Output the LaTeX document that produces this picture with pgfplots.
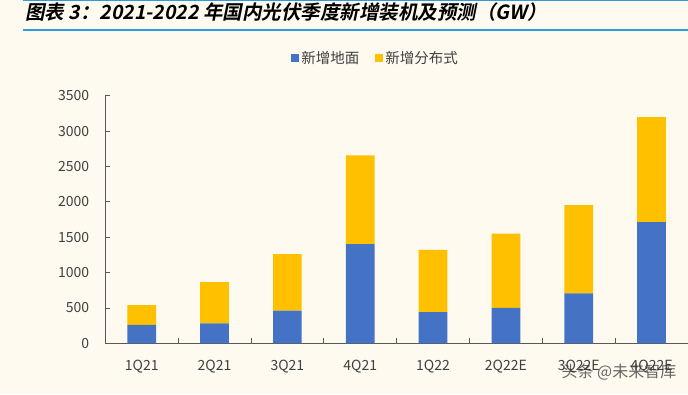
\documentclass[border=0pt]{standalone}
\usepackage{pgfplots}
\pgfplotsset{compat=1.18}
\usepackage{fontspec}
\setmainfont{Noto Sans CJK SC}
\newfontfamily\titlefont{Noto Sans CJK SC Bold}[FakeSlant=0.2]
\definecolor{bg}{HTML}{FEFAF0}
\definecolor{cblue}{HTML}{4472C4}
\definecolor{cyellow}{HTML}{FFC000}
\definecolor{tline}{HTML}{2E9BDF}
\definecolor{axgray}{HTML}{595959}
\definecolor{txt}{HTML}{404040}
\begin{document}
\begin{tikzpicture}[x=1pt,y=1pt]
\useasboundingbox (0,0) rectangle (688,394);
\fill[bg] (0,0) rectangle (688,394);
\draw[tline, line width=1pt] (23,393) -- (688,393);
\draw[tline, line width=2pt] (23,363.5) -- (688,363.5);
\node[anchor=base west, inner sep=0pt, font=\titlefont\fontsize{19.5}{22}\selectfont] at (25,374.3) {图表 3：2021-2022 年国内光伏季度新增装机及预测（GW）};
\begin{axis}[
  at={(105.3pt,50.7pt)}, anchor=south west,
  scale only axis, width=582.7pt, height=247.6pt,
  ybar stacked, bar width=28.7pt,
  xmin=-0.5, xmax=7.5, ymin=0, ymax=3500,
  xtick={0.5,1.5,...,7.5}, xticklabels={},
  extra x ticks={0,1,2,3,4,5,6,7},
  extra x tick labels={1Q21,2Q21,3Q21,4Q21,1Q22,2Q22E,3Q22E,4Q22E},
  extra x tick style={major tick length=0pt},
  ytick={0,500,...,3500},
  axis x line*=bottom, axis y line*=left,
  tick align=inside, major tick length=5pt,
  axis line style={axgray, line width=0.8pt},
  tick style={axgray, line width=0.8pt},
  ticklabel style={font=\fontsize{14}{16}\selectfont, text=txt},
  yticklabel style={anchor=east, inner sep=0pt, xshift=-16pt},
  xticklabel style={anchor=north, inner sep=0pt, yshift=-16.5pt},
  /pgf/number format/assume math mode=true,
  /pgf/number format/set thousands separator={},
  legend style={at={(0.464,1.152)}, anchor=center, draw=none, fill=none,
    legend columns=2, font=\fontsize{14.5}{16}\selectfont, text=txt,
    /tikz/every even column/.append style={column sep=14pt},
    legend cell align=left},
  legend image code/.code={\fill[#1,draw=none] (0pt,-4pt) rectangle (8pt,4pt);},
]
\addplot[fill=cblue, draw=none] coordinates {(0,260) (1,283) (2,461) (3,1401) (4,439) (5,500) (6,707) (7,1712)};
\addplot[fill=cyellow, draw=none] coordinates {(0,278) (1,580) (2,798) (3,1254) (4,881) (5,1051) (6,1246) (7,1486)};
\legend{新增地面,新增分布式}
\end{axis}
\node[font=\fontsize{16}{18}\selectfont, text=black!80, opacity=0.75] at (619,22.3) {头条 @未来智库};
\end{tikzpicture}
\end{document}
